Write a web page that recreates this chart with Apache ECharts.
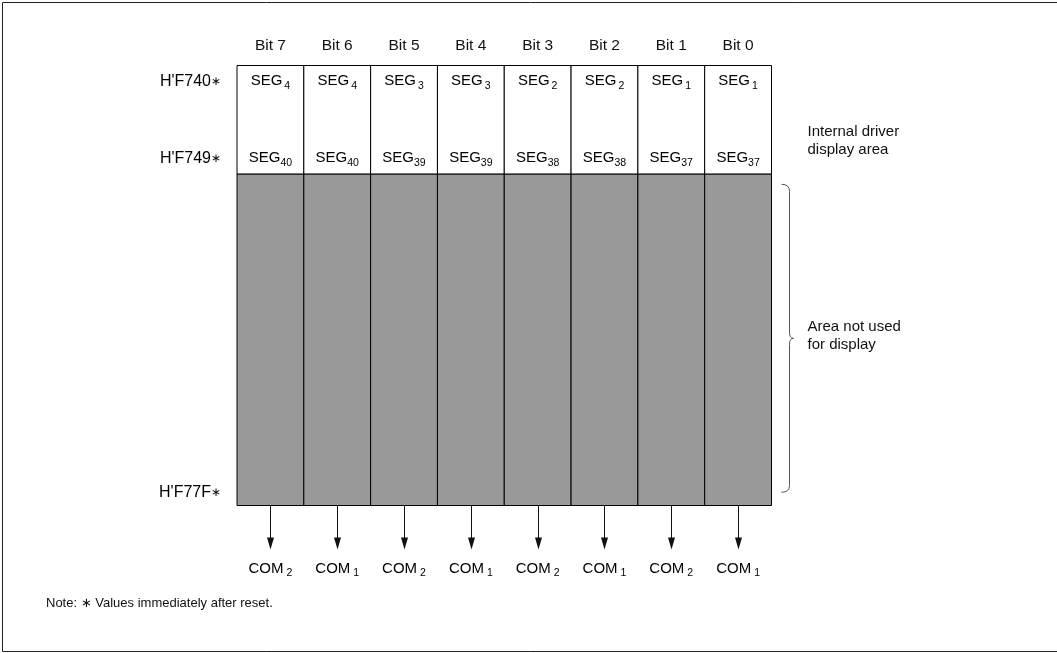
<!DOCTYPE html>
<html>
<head>
<meta charset="utf-8">
<style>
  html, body { margin: 0; padding: 0; background: #fff; }
  #chart { width: 1057px; height: 653px; }
</style>
<script src="https://cdn.jsdelivr.net/npm/echarts@6/dist/echarts.min.js"></script>
</head>
<body>
<div id="chart"></div>
<script>
// data
const bits = ['Bit 7', 'Bit 6', 'Bit 5', 'Bit 4', 'Bit 3', 'Bit 2', 'Bit 1', 'Bit 0']
const segTop = ['4', '4', '3', '3', '2', '2', '1', '1']
const segBottom = ['40', '40', '39', '39', '38', '38', '37', '37']
const coms = ['2', '1', '2', '1', '2', '1', '2', '1']
const addresses = ["H'F740", "H'F749", "H'F77F"]
const areaNames = ['Internal driver\ndisplay area', 'Area not used\nfor display']
const noteText = 'Note: \u2217 Values immediately after reset.'

// vertical layout, in % of the table height (0 = top edge, 100 = bottom edge)
const rowPos = [3.6, 21.1, 97.0]
const bandEdges = [0, 24.7, 100]
const bandColors = ['#ffffff', '#999999']

const FONT = '"Liberation Sans", Arial, Helvetica, sans-serif'
const INK = '#111'

const chart = echarts.init(document.getElementById('chart'))

// sub-scripted labels (SEG4, COM2 ...)
function subRich (gap) {
  return {
    m: { fontSize: 15, fontFamily: FONT, color: INK, lineHeight: 20, verticalAlign: 'middle' },
    s: { fontSize: 10.5, fontFamily: FONT, color: INK, lineHeight: 10, verticalAlign: 'bottom' },
    sp: { fontSize: 10.5, fontFamily: FONT, color: INK, lineHeight: 10, verticalAlign: 'bottom', padding: [0, 0, 0, gap] }
  }
}
function subText (main, sub) {
  return '{m|' + main + '}{' + (sub.length === 1 ? 'sp' : 's') + '|' + sub + '}'
}

const cellData = []
bits.forEach((b, i) => {
  for (let k = 0; k < bandColors.length; k++) cellData.push([i, bandEdges[k], bandEdges[k + 1], k])
})
const segData = []
bits.forEach((b, i) => {
  segData.push([i, rowPos[0], 'SEG', segTop[i]])
  segData.push([i, rowPos[1], 'SEG', segBottom[i]])
})

const option = {
  animation: false,
  grid: { left: 237, right: 285.5, top: 65.5, bottom: 147.5 },
  xAxis: {
    type: 'category',
    data: bits,
    position: 'top',
    axisLine: { show: false },
    axisTick: { show: false },
    splitLine: { show: false },
    axisLabel: { margin: 12, fontSize: 15.5, fontFamily: FONT, color: INK }
  },
  yAxis: { type: 'value', min: 0, max: 100, inverse: true, show: false },
  graphic: [
    {
      type: 'rect',
      shape: { x: 2.5, y: 2.5, width: 1100, height: 649 },
      style: { fill: 'none', stroke: '#222', lineWidth: 1 },
      silent: true
    },
    {
      type: 'text',
      left: 46,
      top: 597,
      style: { text: noteText, fontSize: 13, fontFamily: FONT, fill: INK }
    }
  ],
  series: [
    {
      // memory cells: white display area and grey unused area
      type: 'custom',
      data: cellData,
      renderItem (params, api) {
        const p0 = api.coord([api.value(0), api.value(1)])
        const p1 = api.coord([api.value(0), api.value(2)])
        const w = api.size([1, 0])[0]
        return {
          type: 'rect',
          shape: { x: p0[0] - w / 2, y: p0[1], width: w, height: p1[1] - p0[1] },
          style: { fill: bandColors[api.value(3)], stroke: '#000', lineWidth: 1 }
        }
      }
    },
    {
      // SEGn labels inside the white cells
      type: 'custom',
      data: segData,
      renderItem (params, api) {
        const d = segData[params.dataIndex]
        const p = api.coord([d[0], d[1]])
        return {
          type: 'text',
          x: p[0],
          y: p[1],
          style: { text: subText(d[2], d[3]), rich: subRich(2), align: 'center', verticalAlign: 'middle' }
        }
      }
    },
    {
      // address labels at the left
      type: 'custom',
      data: addresses.map((a, k) => [0, rowPos[k], a]),
      renderItem (params, api) {
        const p = api.coord([0, api.value(1)])
        const w = api.size([1, 0])[0]
        return {
          type: 'text',
          x: p[0] - w / 2 - 16,
          y: p[1],
          style: {
            text: '{m|' + addresses[params.dataIndex] + '}{a|\u2217}',
            rich: {
              m: { fontSize: 16, fontFamily: FONT, color: INK },
              a: { fontSize: 12, fontFamily: FONT, color: INK }
            },
            align: 'right',
            verticalAlign: 'middle'
          }
        }
      }
    },
    {
      // arrows down to the COM lines
      type: 'custom',
      data: coms.map((c, i) => [i, 100]),
      renderItem (params, api) {
        const i = api.value(0)
        const top = api.coord([i, 100])
        const tip = api.coord([i, 110])
        const x = Math.round(top[0]) + 0.5
        return {
          type: 'group',
          children: [
            { type: 'line', shape: { x1: x, y1: top[1], x2: x, y2: tip[1] - 10 }, style: { stroke: '#111', lineWidth: 1 } },
            { type: 'polygon', shape: { points: [[x - 3.5, tip[1] - 12], [x + 3.5, tip[1] - 12], [x, tip[1]]] }, style: { fill: '#111' } }
          ]
        }
      }
    },
    {
      // COMn labels
      type: 'custom',
      data: coms.map((c, i) => [i, 114.3]),
      renderItem (params, api) {
        const p = api.coord([api.value(0), api.value(1)])
        return {
          type: 'text',
          x: p[0],
          y: p[1],
          style: { text: subText('COM', coms[params.dataIndex]), rich: subRich(3), align: 'center', verticalAlign: 'middle' }
        }
      }
    },
    {
      // area descriptions and the brace on the right
      type: 'custom',
      data: [[7, 0]],
      renderItem (params, api) {
        const c = api.coord([7, 0])
        const w = api.size([1, 0])[0]
        const right = c[0] + w / 2
        const y = v => api.coord([7, v])[1]
        const x0 = right + 10
        const xv = right + 18
        const xt = right + 22
        const yT = y(27.0)
        const yM = y(62.0)
        const yB = y(97.0)
        const brace = 'M' + x0 + ' ' + yT + ' Q' + xv + ' ' + yT + ' ' + xv + ' ' + (yT + 7) +
          ' L' + xv + ' ' + (yM - 6) + ' Q' + xv + ' ' + yM + ' ' + xt + ' ' + yM +
          ' Q' + xv + ' ' + yM + ' ' + xv + ' ' + (yM + 6) +
          ' L' + xv + ' ' + (yB - 7) + ' Q' + xv + ' ' + yB + ' ' + x0 + ' ' + yB
        return {
          type: 'group',
          children: [
            { type: 'path', shape: { pathData: brace }, style: { fill: 'none', stroke: '#555', lineWidth: 1 } },
            { type: 'text', x: right + 36, y: y(17.1), style: { text: areaNames[0], fontSize: 15, lineHeight: 18, fontFamily: FONT, fill: INK, align: 'left', verticalAlign: 'middle' } },
            { type: 'text', x: right + 36, y: y(61.5), style: { text: areaNames[1], fontSize: 15, lineHeight: 18, fontFamily: FONT, fill: INK, align: 'left', verticalAlign: 'middle' } }
          ]
        }
      }
    }
  ]
}

chart.setOption(option)
</script>
</body>
</html>
